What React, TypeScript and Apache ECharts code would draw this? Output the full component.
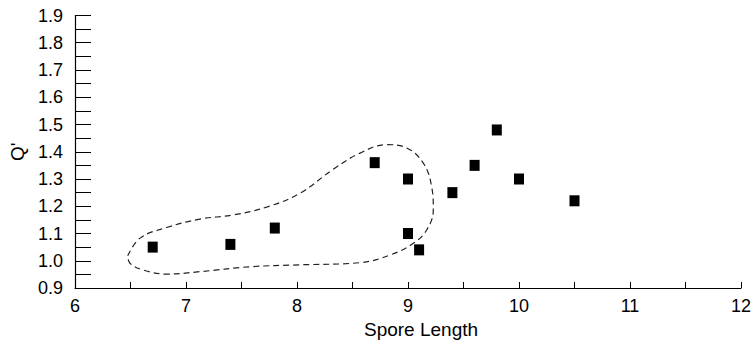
import React, { useEffect, useRef } from "react";
import * as echarts from "echarts";

const sporeLength = [6.7, 7.4, 7.8, 8.7, 9.0, 9.0, 9.1, 9.4, 9.6, 9.8, 10.0, 10.5];
const qPrime = [1.05, 1.06, 1.12, 1.36, 1.30, 1.10, 1.04, 1.25, 1.35, 1.48, 1.30, 1.22];

// dashed enclosure outline (data coordinates)
const outlineX = [6.475, 6.586, 6.826, 7.126, 7.426, 7.727, 8.027, 8.327, 8.568, 8.808, 8.988, 9.138, 9.213, 9.228, 9.168, 9.048, 8.838, 8.568, 8.027, 7.577, 7.126, 6.826, 6.615, 6.495, 6.475];
const outlineY = [1.018, 1.083, 1.122, 1.153, 1.168, 1.197, 1.248, 1.336, 1.395, 1.426, 1.414, 1.358, 1.272, 1.187, 1.113, 1.064, 1.021, 0.993, 0.985, 0.978, 0.960, 0.951, 0.966, 0.991, 1.018];

const FONT = "'Liberation Sans', Arial, sans-serif";

export default function App() {
  const ref = useRef<HTMLDivElement>(null);
  useEffect(() => {
    document.body.style.margin = "0";
    const chart = echarts.init(ref.current!, null, { renderer: "svg" });
    chart.setOption({
      animation: false,
      backgroundColor: "#ffffff",
      grid: { left: 75, right: 15, top: 15.5, bottom: 53, containLabel: false, outerBoundsMode: "none" },
      xAxis: {
        type: "value",
        min: 6,
        max: 12,
        interval: 1,
        name: "Spore Length",
        nameLocation: "middle",
        nameGap: 32,
        nameTextStyle: { color: "#000", fontSize: 19, fontFamily: FONT, padding: [0, 0, 0, 26] },
        axisLine: { show: true, lineStyle: { color: "#000", width: 1.2 } },
        axisTick: { show: true, inside: true, length: 6, lineStyle: { color: "#000", width: 1 } },
        minorTick: { show: true, splitNumber: 2, length: 6, lineStyle: { color: "#000", width: 1 } },
        axisLabel: { color: "#000", fontSize: 18, fontFamily: FONT, margin: 9 },
        splitLine: { show: false },
      },
      yAxis: {
        type: "value",
        min: 0.9,
        max: 1.9,
        interval: 0.1,
        name: "Q'",
        nameLocation: "middle",
        nameGap: 48,
        nameRotate: 90,
        nameTextStyle: { color: "#000", fontSize: 19, fontFamily: FONT },
        axisLine: { show: true, lineStyle: { color: "#000", width: 1.2 } },
        axisTick: { show: true, inside: true, length: 16, lineStyle: { color: "#000", width: 1 } },
        minorTick: { show: true, splitNumber: 2, length: 16, lineStyle: { color: "#000", width: 1 } },
        axisLabel: {
          color: "#000",
          fontSize: 18,
          fontFamily: FONT,
          margin: 12,
          padding: [6, 0, 0, 0],
          formatter: (v: number) => v.toFixed(1),
        },
        splitLine: { show: false },
      },
      series: [
        {
          type: "line",
          data: outlineX.map((x, i) => [x, outlineY[i]]),
          smooth: 0.4,
          showSymbol: false,
          symbol: "none",
          lineStyle: { color: "#222", width: 1.2, type: [6, 4] },
          silent: true,
          z: 1,
        },
        {
          type: "scatter",
          data: sporeLength.map((x, i) => [x, qPrime[i]]),
          symbol: "rect",
          symbolSize: [10, 11],
          itemStyle: { color: "#000", opacity: 1 },
          z: 2,
        },
      ],
    });
    return () => chart.dispose();
  }, []);
  return <div ref={ref} style={{ width: 756, height: 341 }} />;
}
